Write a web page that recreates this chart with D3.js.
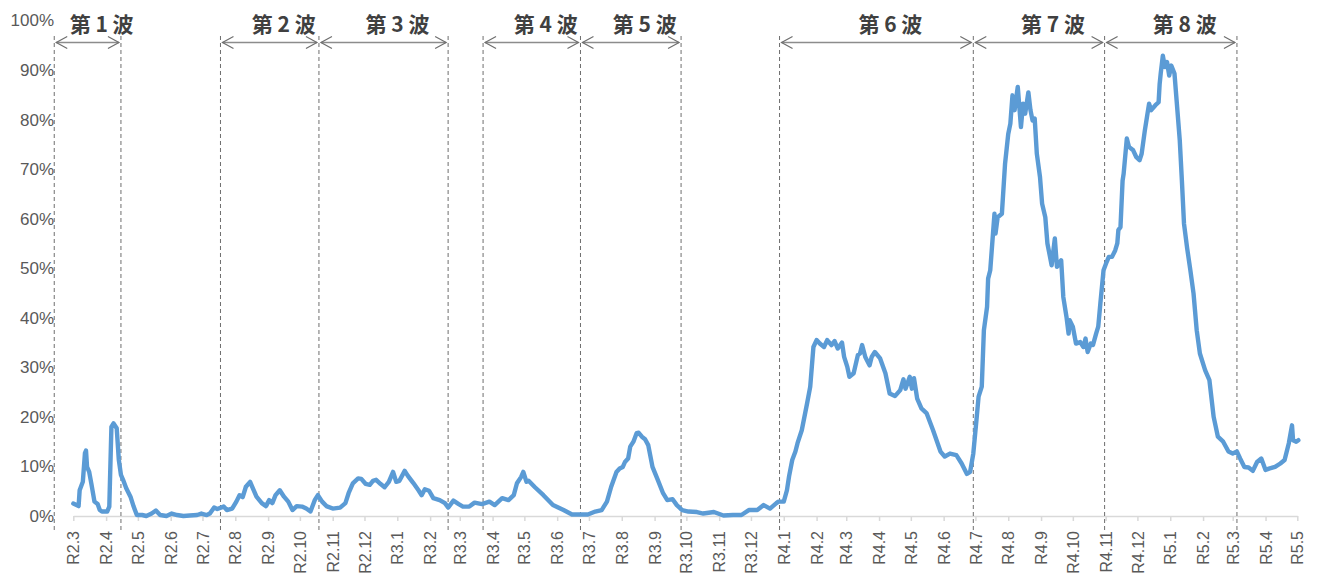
<!DOCTYPE html>
<html lang="ja">
<head>
<meta charset="utf-8">
<script src="https://cdn.jsdelivr.net/npm/d3@7"></script>
<style>
    html, body { margin: 0; padding: 0; background: #fff; }
    svg { display: block; }
</style>
</head>
<body>
<div id="chart"></div>
<script>
// one line per month
let dates = [
    '2020-03-01','2020-03-06','2020-03-07','2020-03-10','2020-03-12','2020-03-13','2020-03-14','2020-03-16','2020-03-18','2020-03-21','2020-03-24','2020-03-26','2020-03-28',
    '2020-04-02','2020-04-04','2020-04-06','2020-04-08','2020-04-11','2020-04-13','2020-04-15','2020-04-17','2020-04-20','2020-04-24','2020-04-27','2020-04-30',
    '2020-05-05','2020-05-09','2020-05-14','2020-05-18','2020-05-22','2020-05-28',
    '2020-06-02','2020-06-07','2020-06-13','2020-06-19','2020-06-26','2020-06-30',
    '2020-07-05','2020-07-08','2020-07-12','2020-07-15','2020-07-21','2020-07-24','2020-07-29',
    '2020-08-02','2020-08-05','2020-08-08','2020-08-11','2020-08-15','2020-08-17','2020-08-21','2020-08-26','2020-08-30',
    '2020-09-02','2020-09-05','2020-09-08','2020-09-12','2020-09-16','2020-09-20','2020-09-24','2020-09-28',
    '2020-10-03','2020-10-07','2020-10-11','2020-10-15','2020-10-18','2020-10-22','2020-10-26',
    '2020-11-01','2020-11-08','2020-11-13','2020-11-16','2020-11-20','2020-11-25','2020-11-28',
    '2020-12-02','2020-12-06','2020-12-09','2020-12-12','2020-12-16','2020-12-20','2020-12-24','2020-12-28','2020-12-31',
    '2021-01-03','2021-01-08','2021-01-11','2021-01-16','2021-01-21','2021-01-24','2021-01-27','2021-01-31',
    '2021-02-04','2021-02-10','2021-02-15','2021-02-18','2021-02-23','2021-02-28',
    '2021-03-04','2021-03-10','2021-03-15','2021-03-22','2021-03-29',
    '2021-04-03','2021-04-10','2021-04-16','2021-04-21','2021-04-24','2021-04-28','2021-04-30',
    '2021-05-03','2021-05-05','2021-05-11','2021-05-19','2021-05-28',
    '2021-06-07','2021-06-15','2021-06-22','2021-06-30',
    '2021-07-07','2021-07-13','2021-07-18','2021-07-22','2021-07-27','2021-07-30',
    '2021-08-02','2021-08-04','2021-08-07','2021-08-09','2021-08-12','2021-08-15','2021-08-17','2021-08-20','2021-08-23','2021-08-26','2021-08-30',
    '2021-09-04','2021-09-09','2021-09-13','2021-09-18','2021-09-22','2021-09-27',
    '2021-10-03','2021-10-11','2021-10-17','2021-10-27',
    '2021-11-05','2021-11-14','2021-11-22','2021-11-29',
    '2021-12-07','2021-12-13','2021-12-19','2021-12-25','2021-12-27',
    '2022-01-01','2022-01-04','2022-01-06','2022-01-09','2022-01-12','2022-01-14','2022-01-18','2022-01-23','2022-01-26','2022-01-29',
    '2022-02-01','2022-02-04','2022-02-08','2022-02-11','2022-02-15','2022-02-18','2022-02-21','2022-02-25','2022-02-27',
    '2022-03-02','2022-03-04','2022-03-08','2022-03-12','2022-03-14','2022-03-16','2022-03-19','2022-03-23','2022-03-25','2022-03-28',
    '2022-04-02','2022-04-07','2022-04-11','2022-04-16','2022-04-21','2022-04-24','2022-04-26','2022-04-30',
    '2022-05-02','2022-05-04','2022-05-07','2022-05-11','2022-05-16','2022-05-22','2022-05-29',
    '2022-06-02','2022-06-07','2022-06-13','2022-06-18','2022-06-23','2022-06-26','2022-06-29',
    '2022-07-02','2022-07-04','2022-07-07','2022-07-09','2022-07-12','2022-07-13','2022-07-15','2022-07-19','2022-07-20','2022-07-22','2022-07-26','2022-07-29',
    '2022-08-01','2022-08-03','2022-08-05','2022-08-07','2022-08-10','2022-08-13','2022-08-15','2022-08-17','2022-08-20','2022-08-22','2022-08-24','2022-08-26','2022-08-28','2022-08-31',
    '2022-09-02','2022-09-05','2022-09-07','2022-09-11','2022-09-14','2022-09-16','2022-09-20','2022-09-22','2022-09-25','2022-09-27','2022-09-28',
    '2022-10-01','2022-10-04','2022-10-08','2022-10-11','2022-10-13','2022-10-15','2022-10-18','2022-10-20','2022-10-23','2022-10-25','2022-10-27','2022-10-30',
    '2022-11-02','2022-11-04','2022-11-07','2022-11-10','2022-11-12','2022-11-13','2022-11-15','2022-11-17','2022-11-18','2022-11-21','2022-11-23','2022-11-27','2022-11-30',
    '2022-12-03','2022-12-05','2022-12-08','2022-12-10','2022-12-12','2022-12-14','2022-12-18','2022-12-21','2022-12-22','2022-12-23','2022-12-25','2022-12-27','2022-12-29','2022-12-31',
    '2023-01-02','2023-01-05','2023-01-07','2023-01-10','2023-01-12','2023-01-14','2023-01-17','2023-01-20','2023-01-23','2023-01-26','2023-01-29',
    '2023-02-03','2023-02-07','2023-02-11','2023-02-15','2023-02-20','2023-02-25',
    '2023-03-01','2023-03-05','2023-03-08','2023-03-12','2023-03-16','2023-03-20','2023-03-24','2023-03-28',
    '2023-04-01','2023-04-05','2023-04-10','2023-04-15','2023-04-19','2023-04-23','2023-04-26','2023-04-27','2023-04-30',
    '2023-05-02'
];
let rates = [
    2.5, 2.0, 5.2, 6.9, 12.7, 13.2, 9.9, 8.9, 6.6, 2.9, 2.4, 1.2, 0.9,
    0.9, 1.9, 18.0, 18.7, 17.7, 11.3, 8.3, 7.3, 5.6, 3.9, 1.9, 0.2,
    0.2, 0.0, 0.5, 1.1, 0.2, 0.0,
    0.5, 0.2, 0.0, 0.1, 0.2, 0.5,
    0.2, 0.5, 1.7, 1.4, 1.9, 1.2, 1.5,
    2.9, 4.2, 3.8, 5.9, 6.9, 5.9, 3.9, 2.6, 2.0,
    3.2, 2.6, 4.2, 5.2, 3.9, 2.9, 1.2, 2.0,
    1.9, 1.5, 0.9, 3.2, 4.2, 2.9, 2.0,
    1.5, 1.7, 2.6, 4.6, 6.6, 7.6, 7.5,
    6.5, 6.3, 7.1, 7.3, 6.5, 5.8, 6.9, 8.9, 6.9,
    7.1, 9.1, 8.1, 6.7, 5.2, 4.2, 5.4, 5.1,
    3.6, 3.2, 2.6, 1.7, 3.1, 2.4,
    1.9, 1.9, 2.7, 2.4, 2.9,
    2.2, 3.6, 3.2, 4.2, 6.6, 7.9, 8.9,
    6.9, 7.1, 5.8, 4.2, 2.2,
    1.2, 0.3, 0.3, 0.3,
    0.9, 1.2, 2.9, 5.9, 8.9, 9.6,
    9.9, 10.9, 11.6, 14.0, 15.0, 16.7, 16.8, 16.0, 15.5, 14.3, 9.9,
    7.3, 4.6, 3.2, 3.4, 2.2, 1.2,
    0.9, 0.8, 0.5, 0.8,
    0.1, 0.2, 0.2, 1.2,
    1.2, 2.2, 1.5, 2.6, 2.9,
    2.9, 5.2, 8.0, 11.3, 13.0, 14.7, 17.3, 22.7, 26.1, 34.1,
    35.5, 34.8, 34.1, 35.5, 34.5, 35.3, 33.8, 35.0, 32.1,
    30.1, 28.1, 28.8, 32.5, 32.8, 34.5, 32.1, 30.4, 32.1, 33.1,
    31.8, 28.8, 24.7, 24.2, 25.4, 27.6, 25.7, 28.1,
    25.7, 27.8, 23.7, 21.7, 20.7, 17.3, 13.0,
    12.0, 12.6, 12.3, 10.6, 8.5, 8.9, 12.6,
    19.4, 24.1, 26.1, 37.5, 42.2, 47.9, 49.6, 61.0, 57.0, 60.3, 61.0, 71.1,
    77.1, 79.2, 84.9, 81.9, 86.6, 78.5, 83.2, 81.2, 85.5, 81.9, 79.8, 80.2, 73.1, 68.4,
    63.0, 60.3, 55.0, 50.6, 56.0, 50.3, 51.6, 44.2, 40.2, 36.8, 39.5,
    38.2, 34.8, 35.1, 34.1, 35.8, 33.1, 34.8, 34.5, 36.8, 38.2, 42.9, 49.6,
    51.3, 52.3, 52.3, 53.6, 55.0, 57.7, 58.3, 67.7, 69.1, 76.2, 74.5, 73.8, 72.4,
    71.8, 73.1, 77.8, 80.5, 83.2, 81.9, 82.9, 83.5, 87.2, 89.3, 92.9, 90.6, 91.6, 88.9,
    90.9, 89.3, 83.9, 75.8, 67.7, 59.0, 54.0, 49.6, 44.9, 37.5, 32.8,
    29.4, 27.4, 20.0, 16.0, 15.0, 13.0,
    12.6, 13.0, 11.6, 9.9, 9.8, 9.1, 10.9, 11.6,
    9.3, 9.6, 9.9, 10.6, 11.3, 14.7, 18.3, 15.3, 15.0,
    15.3
];

let xStart = '2020-03-01';
let xEnd = '2023-05-01';
let yTicks = [0, 0.1, 0.2, 0.3, 0.4, 0.5, 0.6, 0.7, 0.8, 0.9, 1];

let waveNames = ['第 1 波', '第 2 波', '第 3 波', '第 4 波', '第 5 波', '第 6 波', '第 7 波', '第 8 波'];
let waveStarts = ['2020-02-12', '2020-07-18', '2020-10-19', '2021-03-23', '2021-06-23', '2021-12-28', '2022-06-29', '2022-10-31'];
let waveEnds = ['2020-04-15', '2020-10-19', '2021-02-18', '2021-06-23', '2021-09-26', '2022-06-29', '2022-10-31', '2023-03-05'];

let width = 1318;
let height = 579;
let axisY = 516;
let arrowY = 42.5;

window.onload = function () {
    let parse = d3.timeParse('%Y-%m-%d');
    if (dates.length !== rates.length) console.log('length mismatch', dates.length, rates.length);
    let series = dates.map((d, i) => ({date: parse(d), value: rates[i] / 100}));

    let svg = d3.select('#chart')
        .append('svg')
        .attr('width', width)
        .attr('height', height);

    let x = d3.scaleTime()
        .domain([parse(xStart), parse(xEnd)])
        .range([73.3, 1297.3]);

    let y = d3.scaleLinear()
        .domain([0, 1])
        .range([axisY, 20.5]);

    // y labels only, no axis line
    svg.append('g')
        .attr('transform', 'translate(54,0)')
        .call(d3.axisLeft(y).tickValues(yTicks).tickFormat(d3.format('.0%')).tickSize(0).tickPadding(0))
        .call(g => g.select('.domain').remove())
        .selectAll('text')
        .attr('fill', '#595959')
        .style('font-family', '"Liberation Sans", Arial, sans-serif')
        .style('font-size', '17px');

    // month axis, labels like R2.3
    let fmtMonth = d => 'R' + (d.getFullYear() - 2018) + '.' + (d.getMonth() + 1);
    let xAxis = svg.append('g')
        .attr('transform', 'translate(0,' + axisY + ')')
        .call(d3.axisBottom(x).ticks(d3.timeMonth.every(1)).tickFormat(fmtMonth).tickSize(5).tickSizeOuter(0));
    xAxis.select('.domain').attr('stroke', '#d9d9d9').attr('stroke-width', 1.5);
    xAxis.selectAll('.tick line').attr('stroke', '#d9d9d9').attr('stroke-width', 1.5);
    xAxis.selectAll('text')
        .attr('transform', 'rotate(-90)')
        .attr('text-anchor', 'end')
        .attr('x', -15)
        .attr('y', 0)
        .attr('dy', '0.35em')
        .attr('fill', '#595959')
        .style('font-family', '"Liberation Sans", Arial, sans-serif')
        .style('font-size', '16px');

    // dashed wave boundaries
    let bounds = [...new Set(waveStarts.concat(waveEnds))];
    svg.selectAll('.bound')
        .data(bounds)
        .enter()
        .append('line')
        .attr('class', 'bound')
        .attr('x1', d => x(parse(d)))
        .attr('x2', d => x(parse(d)))
        .attr('y1', 36)
        .attr('y2', 533)
        .attr('stroke', '#6e6e6e')
        .attr('stroke-width', 1)
        .attr('stroke-dasharray', '4,3');

    // the curve
    let line = d3.line()
        .x(d => x(d.date))
        .y(d => y(d.value));

    svg.append('path')
        .datum(series)
        .attr('d', line)
        .attr('fill', 'none')
        .attr('stroke', '#5b9bd5')
        .attr('stroke-width', 4.4)
        .attr('stroke-linejoin', 'round')
        .attr('stroke-linecap', 'round');

    // double arrows + labels
    let waves = waveNames.map((n, i) => ({name: n, x0: x(parse(waveStarts[i])) + 2, x1: x(parse(waveEnds[i])) - 2}));
    let arrows = svg.selectAll('.wave')
        .data(waves)
        .enter()
        .append('g')
        .attr('class', 'wave');

    arrows.append('path')
        .attr('d', d => 'M' + d.x0 + ',' + arrowY + 'H' + d.x1)
        .attr('stroke', '#8c8c8c')
        .attr('stroke-width', 1.6)
        .attr('fill', 'none');

    arrows.append('path')
        .attr('d', d => 'M' + (d.x0 + 11) + ',' + (arrowY - 6) + 'L' + d.x0 + ',' + arrowY + 'L' + (d.x0 + 11) + ',' + (arrowY + 6)
            + 'M' + (d.x1 - 11) + ',' + (arrowY - 6) + 'L' + d.x1 + ',' + arrowY + 'L' + (d.x1 - 11) + ',' + (arrowY + 6))
        .attr('stroke', '#6e6e6e')
        .attr('stroke-width', 1.2)
        .attr('fill', 'none');

    arrows.append('text')
        .text(d => d.name)
        .attr('x', d => (d.x0 + d.x1) / 2 + 14)
        .attr('y', 32)
        .attr('text-anchor', 'middle')
        .attr('fill', '#404040')
        .style('font-family', '"Noto Sans CJK JP", "Noto Sans", sans-serif')
        .style('font-weight', 'bold')
        .style('font-size', '21px');
};
</script>
</body>
</html>
